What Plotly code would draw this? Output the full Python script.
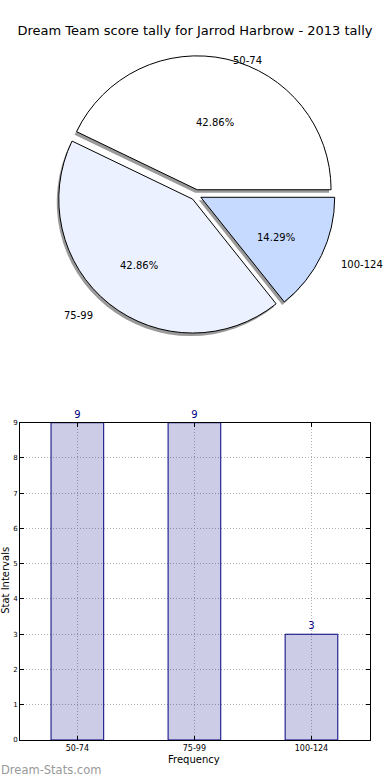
import math
import plotly.graph_objects as go

# ---- data ----
categories = ["50-74", "75-99", "100-124"]
counts = [9, 9, 3]
pie_colors = ["#FFFFFF", "#EBF1FF", "#C6D9FF"]
title_text = "Dream Team score tally for Jarrod Harbrow - 2013 tally"

W, H = 390, 780
ML, MR, MT, MB = 20, 20, 0, 40
PW, PH = W - ML - MR, H - MT - MB


def px_x(px):
    return (px - ML) / PW


def px_y(py):
    return 1 - (py - MT) / PH


FONT = "DejaVu Sans"
pull = 0.04
cx, cy, half = 196, 192, 140
total = sum(counts)
# first slice starts at 3 o'clock and runs counter-clockwise (matplotlib default)
rotation = 90 - 360 * counts[0] / total

fig = go.Figure()

# shadow pie
sdx, sdy = -2, 3
fig.add_trace(go.Pie(
    labels=categories, values=counts, sort=False, direction="counterclockwise",
    rotation=rotation, pull=[pull] * 3, marker=dict(colors=["#9a9a9a"] * 3, line=dict(width=0)),
    textinfo="none", hoverinfo="skip", showlegend=False,
    domain=dict(x=[px_x(cx - half + sdx), px_x(cx + half + sdx)],
                y=[px_y(cy + half + sdy), px_y(cy - half + sdy)]),
))
# main pie
fig.add_trace(go.Pie(
    labels=categories, values=counts, sort=False, direction="counterclockwise",
    rotation=rotation, pull=[pull] * 3,
    marker=dict(colors=pie_colors, line=dict(color="black", width=1)),
    textinfo="none", showlegend=False,
    domain=dict(x=[px_x(cx - half), px_x(cx + half)],
                y=[px_y(cy + half), px_y(cy - half)]),
))

# category labels (labeldistance 1.1) and percentages (pctdistance 0.6)
Rx, Ry = 140, 128
lcx, lcy = 195, 199
cum = 0
annotations = []
for lab, v in zip(categories, counts):
    mid = 2 * math.pi * (cum + v / 2) / total
    cum += v
    dx, dy = math.cos(mid), math.sin(mid)
    lx = lcx + (1.1 + pull) * Rx * dx
    ly = lcy - (1.1 + pull) * Ry * dy
    annotations.append(dict(
        x=px_x(lx), y=px_y(ly), xref="paper", yref="paper", text=lab, showarrow=False,
        xanchor="left" if dx > 0 else "right", yanchor="middle",
        font=dict(family=FONT, size=10, color="black"),
    ))
    tx = lcx + (0.6 + pull) * Rx * dx
    ty = lcy - (0.6 + pull) * Ry * dy
    annotations.append(dict(
        x=px_x(tx), y=px_y(ty), xref="paper", yref="paper",
        text=f"{100 * v / total:.2f}%", showarrow=False,
        xanchor="center", yanchor="middle",
        font=dict(family=FONT, size=10, color="black"),
    ))

# bar chart
fig.add_trace(go.Bar(
    x=categories, y=counts, width=0.45,
    marker=dict(color="rgba(0,0,128,0.2)", line=dict(color="navy", width=1)),
    text=counts, textposition="outside", cliponaxis=False,
    textfont=dict(family=FONT, size=10, color="navy"),
    xaxis="x", yaxis="y", showlegend=False,
))

axis_common = dict(
    showline=True, linecolor="black", linewidth=1, mirror="allticks",
    ticks="inside", ticklen=4, tickcolor="black",
    showgrid=True, gridcolor="#b0b0b0", griddash="1px,2px", gridwidth=1,
    zeroline=False, tickfont=dict(family=FONT, size=7, color="black"),
)

fig.update_layout(
    width=W, height=H, paper_bgcolor="white", plot_bgcolor="white",
    margin=dict(l=ML, r=MR, t=MT, b=MB),
    title=dict(text=title_text, x=0.5, xref="container", xanchor="center",
               y=1 - 30 / H, yref="container", yanchor="middle",
               font=dict(family=FONT, size=13, color="black")),
    xaxis=dict(domain=[0, 1], type="category", range=[-0.49, 2.5], anchor="y", **axis_common),
    yaxis=dict(domain=[0, px_y(421)], range=[0, 9], dtick=1, anchor="x", **axis_common),
    annotations=annotations + [
        dict(text="Stat Intervals", textangle=-90, x=px_x(6), y=px_y(580), xref="paper", yref="paper",
             showarrow=False, xanchor="center", yanchor="middle",
             font=dict(family=FONT, size=10, color="black")),
        dict(text="Frequency", x=px_x(194), y=px_y(760), xref="paper", yref="paper",
             showarrow=False, xanchor="center", yanchor="middle",
             font=dict(family=FONT, size=10, color="black")),
        dict(text="Dream-Stats.com", x=px_x(-1), y=px_y(770), xref="paper", yref="paper",
             showarrow=False, xanchor="left", yanchor="middle",
             font=dict(family=FONT, size=11.5, color="#999999")),
    ],
)
fig.update_xaxes(tickfont=dict(size=8))

fig.write_html(
    "out.html",
    config={"displayModeBar": False},
    post_script="document.body.style.margin='0';document.body.style.overflow='hidden';",
)
